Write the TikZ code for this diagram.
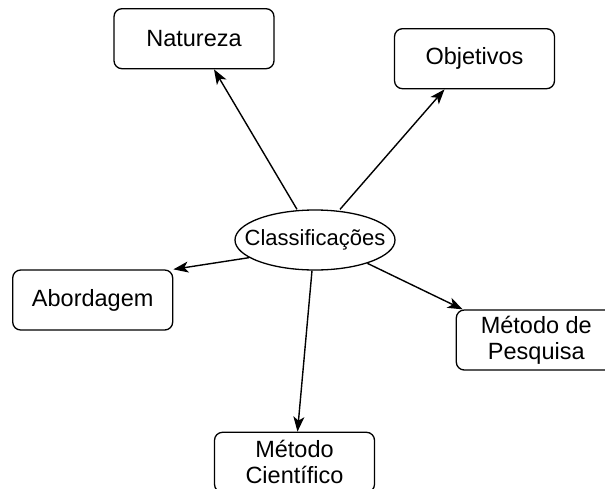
\documentclass[tikz,border=0pt]{standalone}
\usepackage{fontspec}
\setmainfont{Liberation Sans}
\usetikzlibrary{positioning,shapes.geometric,arrows.meta}

\begin{document}
\begin{tikzpicture}[
        every node/.style = {font=\fontsize{23.5}{26}\selectfont, align=center},
        box/.style = {draw, rounded corners=8pt, line width=1.3pt, minimum width=160pt, minimum height=60pt, inner sep=0pt},
        hub/.style = {draw, ellipse, line width=1.3pt, minimum width=160pt, minimum height=60pt, inner sep=0pt},
        link/.style = {-{Stealth[length=15pt,width=11pt,inset=4pt]}, line width=1.4pt}
    ]
        \useasboundingbox (0,0) rectangle (605pt,-488pt);
        \clip (0,0) rectangle (605pt,-488pt);

        \node(classif) [hub] at (315pt,-240pt) {\makebox[0pt]{\fontsize{22}{26}\selectfont Classificações}};
        \node(natureza) [box, above = 140pt of classif, xshift=-121pt] {Natureza};
        \node(objetivos) [box, above = 120pt of classif, xshift=159.5pt] {Objetivos};
        \node(abordagem) [box, left = 61pt of classif, yshift=-60pt] {Abordagem};
        \node(metpesq) [box, right = 60pt of classif, yshift=-100pt] {Método de\\Pesquisa};
        \node(metcient) [box, below = 161pt of classif, xshift=-20.5pt] {Método\\Científico};

        \draw[link] ([xshift=-18pt]classif.north) -- ([xshift=20pt]natureza.south);
        \draw[link] ([xshift=25pt]classif.north) -- ([xshift=-30pt]objetivos.south);
        \draw[link] (classif.195) -- (abordagem.north east);
        \draw[link] (classif.336) -- ([xshift=7pt]metpesq.north west);
        \draw[link] ([xshift=-3pt]classif.south) -- ([xshift=3pt]metcient.north);
    \end{tikzpicture}
\end{document}
